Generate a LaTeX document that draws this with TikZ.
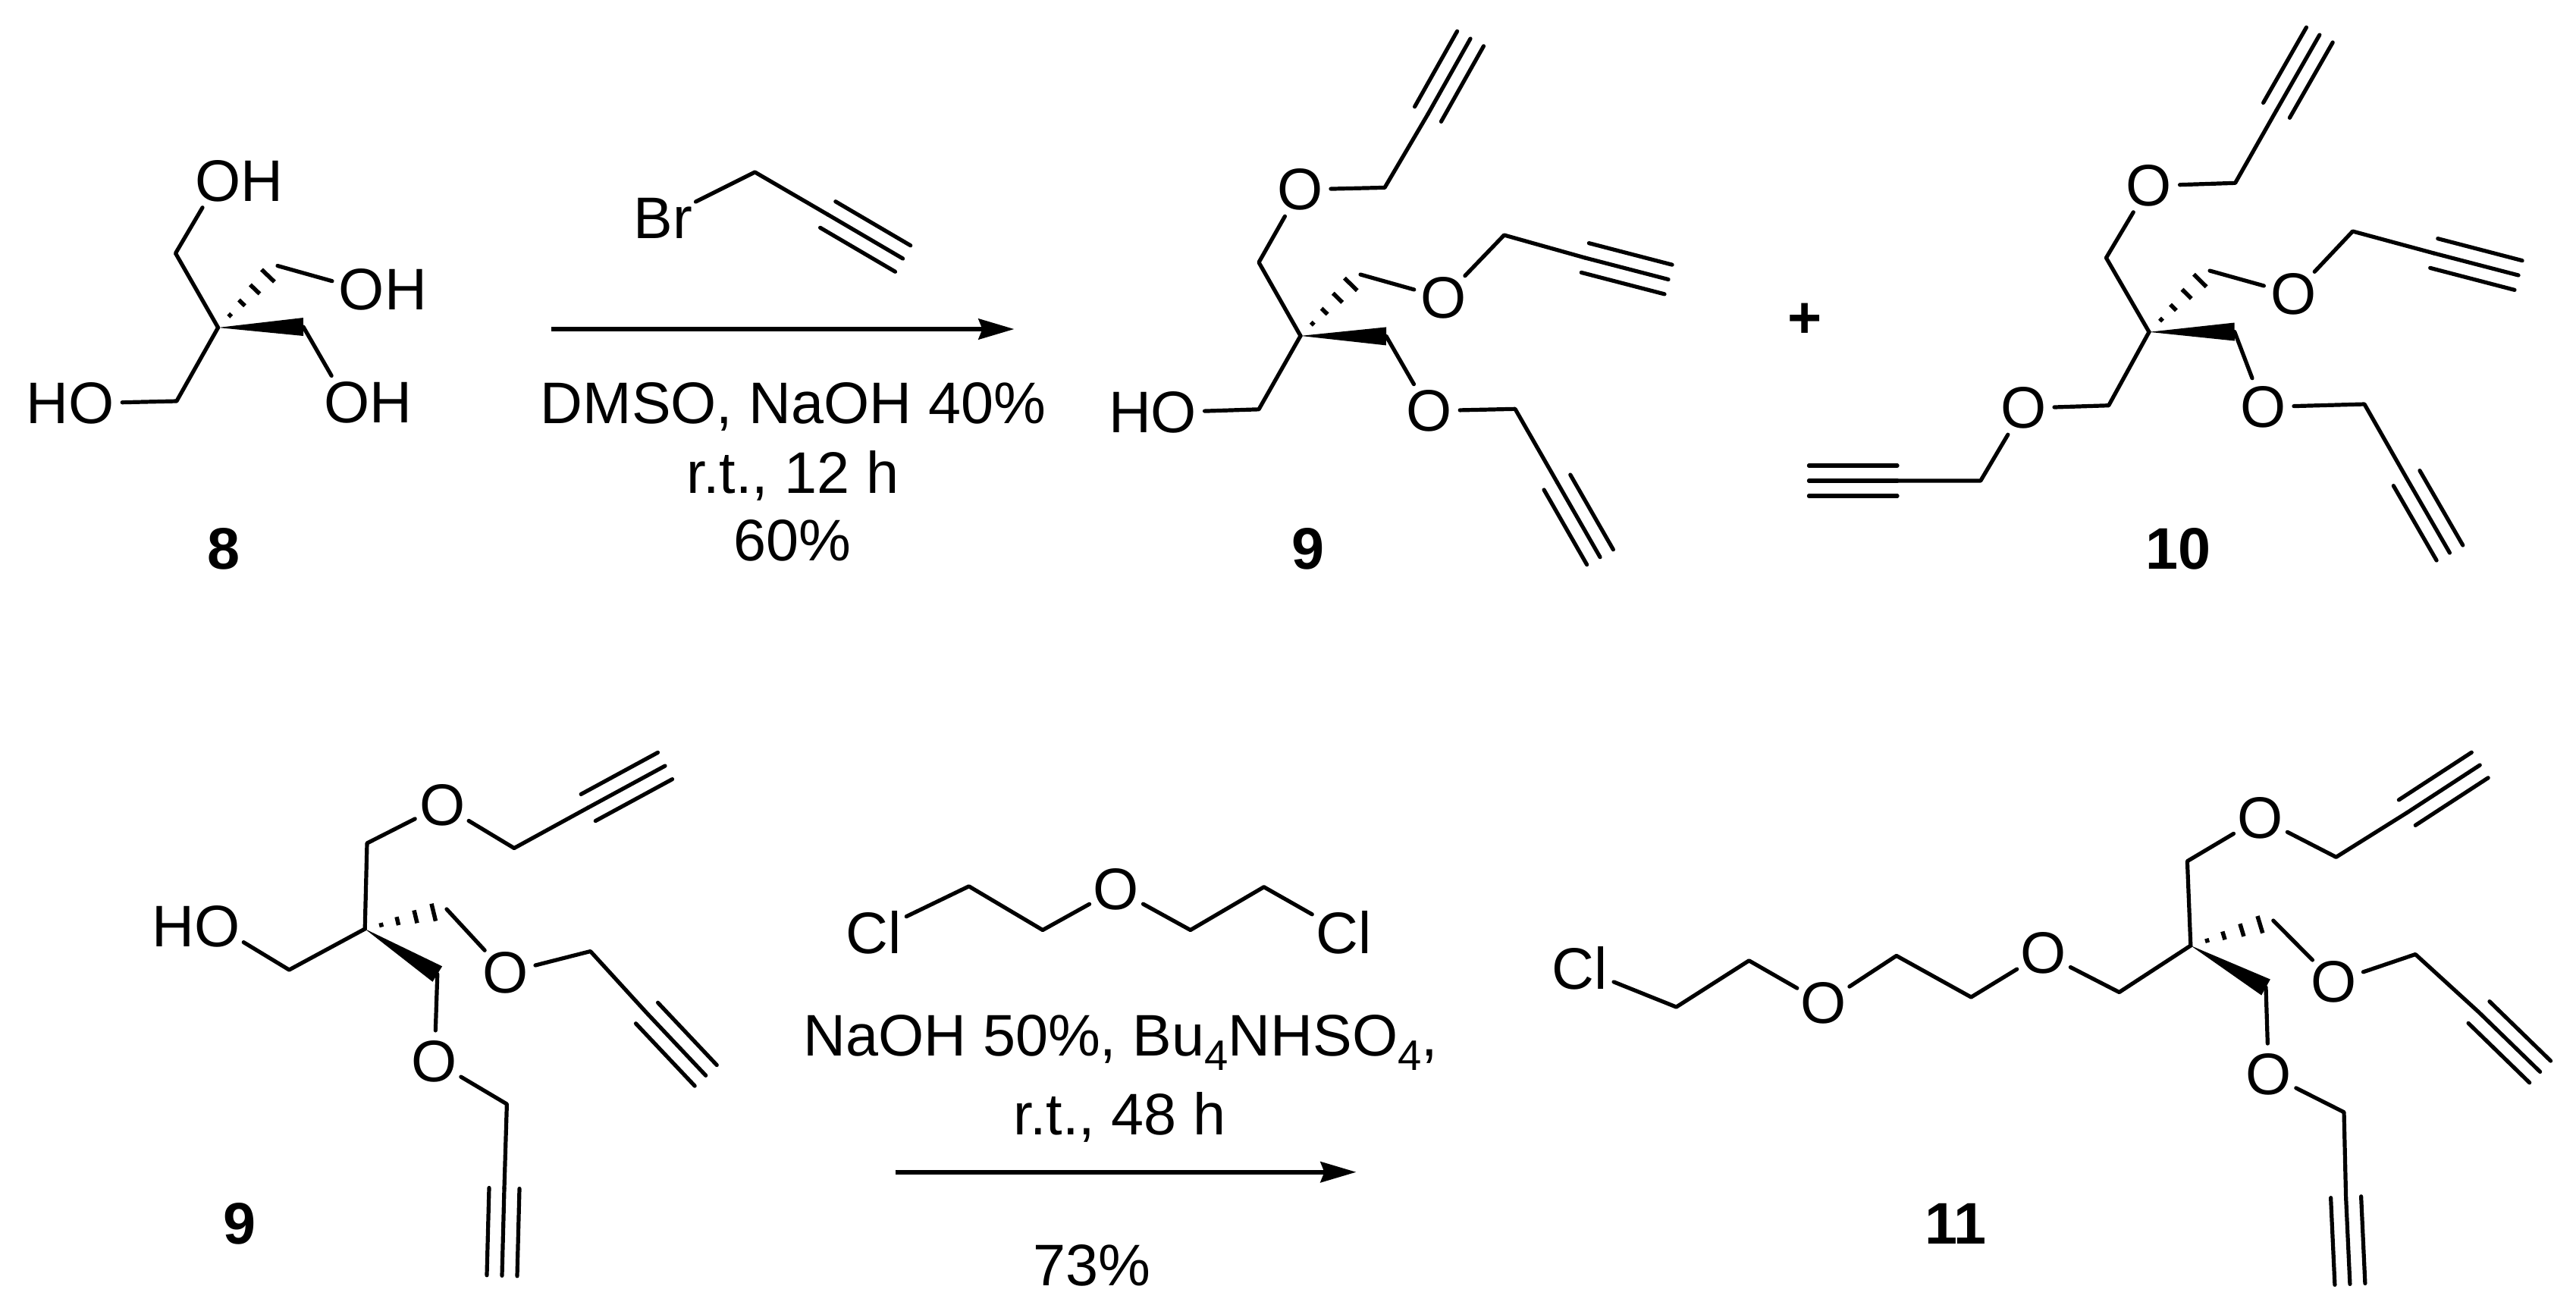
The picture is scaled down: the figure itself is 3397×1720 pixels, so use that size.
\documentclass[tikz,border=0pt]{standalone}
\usepackage{fontspec}
\setmainfont{Liberation Sans}
\usetikzlibrary{arrows.meta,calc}
\tikzset{
  % bonds
  bond/.style={line width=0.052cm, line cap=round, line join=round},
  hashline/.style={line width=0.055cm},
  % atom labels: the circle keeps bonds away from the letter
  atom/.style={circle, inner sep=0pt, outer sep=0pt, minimum size=0.8cm, font=\fontsize{22}{26}\selectfont},
  halogen/.style={atom, minimum size=0.96cm},
  % conditions and compound numbers
  txt/.style={inner sep=0pt, anchor=base, font=\fontsize{22}{26}\selectfont},
  cmpd/.style={inner sep=0pt, anchor=base, font=\fontsize{22}{26}\selectfont\bfseries},
  arr/.style={-{Stealth[length=0.47cm, width=0.27cm, inset=0.05cm]}, line width=0.06cm},
}
\newcommand{\alkyne}[2]{%
  \draw[bond] (#1) -- (#2);
  \draw[bond] ($(#1)!0.2cm!90:(#2)$) -- ($(#2)!0.2cm!-90:(#1)$);
  \draw[bond] ($(#1)!0.2cm!-90:(#2)$) -- ($(#2)!0.2cm!90:(#1)$);
}
\newcommand{\wedgebond}[2]{%
  \fill (#1) -- ($(#2)!0.12cm!90:(#1)$) -- ($(#2)!0.12cm!-90:(#1)$) -- cycle;
}
\newcommand{\hashbond}[2]{%
  \foreach \hpos in {0.2,0.4,0.62,0.84} {
    \coordinate (hmid) at ($(#1)!\hpos!(#2)$);
    \draw[hashline] ($(hmid)!\hpos*0.14cm!90:(#2)$) -- ($(hmid)!\hpos*0.14cm!-90:(#2)$);
  }
}
\newcommand{\subdown}[1]{\raisebox{-5.4pt}{\fontsize{16}{16}\selectfont #1}}

\begin{document}
\begin{tikzpicture}[x=0.01cm, y=-0.01cm]
  \useasboundingbox (0,0) rectangle (3397,1720);

  % 8
  \coordinate (c8) at (287.6,432);
  \coordinate (c8a) at (231.5,334);
  \coordinate (c8b) at (366,350.5);
  \coordinate (c8c) at (400,431);
  \coordinate (c8d) at (232.9,529);
  \node[atom] (o8a) at (287.6,238.8) {\rlap{OH}\phantom{O}};
  \node[atom] (o8b) at (477,381.6) {\rlap{OH}\phantom{O}};
  \node[atom] (o8c) at (457.4,530.6) {\rlap{OH}\phantom{O}};
  \node[atom] (o8d) at (120.7,531.6) {\phantom{O}\llap{HO}};
  \draw[bond] (o8a) -- (c8a) -- (c8) -- (c8d) -- (o8d);
  \draw[bond] (c8b) -- (o8b);
  \draw[bond] (c8c) -- (o8c);
  \hashbond{c8}{c8b}
  \wedgebond{c8}{c8c}
  \node[cmpd] (n8) at (294.6,750) {8};

  % reaction 1
  \node[halogen] (br1) at (874.5,287.5) {Br};
  \coordinate (r1a) at (995.5,227);
  \coordinate (r1b) at (1091.7,283);
  \coordinate (r1c) at (1190.6,341);
  \draw[bond] (br1) -- (r1a) -- (r1b);
  \alkyne{r1b}{r1c}
  \coordinate (arr1s) at (726.8,434);
  \coordinate (arr1e) at (1337.5,434);
  \draw[arr] (arr1s) -- (arr1e);
  \node[txt] (cond1a) at (1046,558) {DMSO, NaOH 40\%};
  \node[txt] (cond1b) at (1045.5,650) {r.t., 12 h};
  \node[txt] (cond1c) at (1045,739) {60\%};

  % 9
  \coordinate (c9) at (1715,442.9);
  \coordinate (c9a) at (1660,346);
  \coordinate (c9b) at (1826,247.4);
  \coordinate (c9c) at (1883,150.5);
  \coordinate (c9d) at (1939,51);
  \coordinate (c9e) at (1794,362);
  \coordinate (c9f) at (1983.5,310);
  \coordinate (c9g) at (2090.3,340);
  \coordinate (c9h) at (2200,368.5);
  \coordinate (c9i) at (1828,443.4);
  \coordinate (c9j) at (1998,539.3);
  \coordinate (c9k) at (2053.4,636);
  \coordinate (c9l) at (2110,734.7);
  \coordinate (c9m) at (1660,539.8);
  \node[atom] (o9a) at (1714.4,250) {O};
  \node[atom] (o9b) at (1903.8,392.9) {O};
  \node[atom] (o9c) at (1884.7,541.8) {O};
  \node[atom] (o9d) at (1548,543.4) {\phantom{O}\llap{HO}};
  \draw[bond] (c9) -- (c9a) -- (o9a) -- (c9b) -- (c9c);
  \alkyne{c9c}{c9d}
  \draw[bond] (c9e) -- (o9b) -- (c9f) -- (c9g);
  \alkyne{c9g}{c9h}
  \draw[bond] (c9i) -- (o9c) -- (c9j) -- (c9k);
  \alkyne{c9k}{c9l}
  \draw[bond] (c9) -- (c9m) -- (o9d);
  \hashbond{c9}{c9e}
  \wedgebond{c9}{c9i}
  \node[cmpd] (n9) at (1725,750) {9};

  % plus
  \node[cmpd] (plus) at (2380,445) {+};

  % 10
  \coordinate (c10) at (2834,437.8);
  \coordinate (c10a) at (2777.4,340);
  \coordinate (c10b) at (2947.6,241.3);
  \coordinate (c10c) at (3002,145.4);
  \coordinate (c10d) at (3058.8,46);
  \coordinate (c10e) at (2914,357);
  \coordinate (c10f) at (3102.5,305);
  \coordinate (c10g) at (3209.7,334);
  \coordinate (c10h) at (3321,363);
  \coordinate (c10i) at (2946.7,437.5);
  \coordinate (c10j) at (3118,533);
  \coordinate (c10k) at (3173.6,630.6);
  \coordinate (c10l) at (3230.4,729);
  \coordinate (c10m) at (2780.7,534.7);
  \coordinate (c10n) at (2611.8,634);
  \coordinate (c10o) at (2502,634);
  \coordinate (c10p) at (2385.4,634);
  \node[atom] (o10a) at (2834,245) {O};
  \node[atom] (o10b) at (3024.4,387.8) {O};
  \node[atom] (o10c) at (2984.4,536.7) {O};
  \node[atom] (o10d) at (2668.5,538.3) {O};
  \draw[bond] (c10) -- (c10a) -- (o10a) -- (c10b) -- (c10c);
  \alkyne{c10c}{c10d}
  \draw[bond] (c10e) -- (o10b) -- (c10f) -- (c10g);
  \alkyne{c10g}{c10h}
  \draw[bond] (c10i) -- (o10c) -- (c10j) -- (c10k);
  \alkyne{c10k}{c10l}
  \draw[bond] (c10) -- (c10m) -- (o10d) -- (c10n) -- (c10o);
  \alkyne{c10o}{c10p}
  \hashbond{c10}{c10e}
  \wedgebond{c10}{c10i}
  \node[cmpd] (n10) at (2872,750) {10};

  % 9 again, second row
  \coordinate (d9) at (481.2,1225);
  \coordinate (d9a) at (484,1112);
  \coordinate (d9b) at (678,1118.5);
  \coordinate (d9c) at (775.7,1065);
  \coordinate (d9d) at (877,1010);
  \coordinate (d9e) at (589,1199);
  \coordinate (d9f) at (778.6,1254.5);
  \coordinate (d9g) at (853,1336);
  \coordinate (d9h) at (930.7,1418.3);
  \coordinate (d9i) at (576.8,1284.5);
  \coordinate (d9j) at (668.4,1456);
  \coordinate (d9k) at (665,1567);
  \coordinate (d9l) at (662,1682.3);
  \coordinate (d9m) at (381.3,1279);
  \node[atom] (p9a) at (583.4,1061.5) {O};
  \node[atom] (p9b) at (666.7,1283) {O};
  \node[atom] (p9c) at (573,1399.4) {O};
  \node[atom] (p9d) at (286.6,1221.6) {\phantom{O}\llap{HO}};
  \draw[bond] (d9) -- (d9a) -- (p9a) -- (d9b) -- (d9c);
  \alkyne{d9c}{d9d}
  \draw[bond] (d9e) -- (p9b) -- (d9f) -- (d9g);
  \alkyne{d9g}{d9h}
  \draw[bond] (d9i) -- (p9c) -- (d9j) -- (d9k);
  \alkyne{d9k}{d9l}
  \draw[bond] (d9) -- (d9m) -- (p9d);
  \hashbond{d9}{d9e}
  \wedgebond{d9}{d9i}
  \node[cmpd] (m9) at (316.5,1640) {9};

  % reaction 2
  \node[halogen] (cl1) at (1152,1229.5) {Cl};
  \node[halogen] (cl2) at (1772,1229.5) {Cl};
  \node[atom] (o2) at (1472,1172.6) {O};
  \coordinate (r2a) at (1277.7,1168.8);
  \coordinate (r2b) at (1375,1226.5);
  \coordinate (r2c) at (1569.8,1226.5);
  \coordinate (r2d) at (1666.7,1169.7);
  \draw[bond] (cl1) -- (r2a) -- (r2b) -- (o2) -- (r2c) -- (r2d) -- (cl2);
  \coordinate (arr2s) at (1180.7,1545.7);
  \coordinate (arr2e) at (1788.5,1545.7);
  \draw[arr] (arr2s) -- (arr2e);
  \node[txt] (cond2a) at (1478,1392) {NaOH 50\%, Bu\subdown{4}NHSO\subdown{4},};
  \node[txt] (cond2b) at (1476.5,1496.6) {r.t., 48 h};
  \node[txt] (cond2c) at (1440,1695) {73\%};

  % 11
  \coordinate (c11) at (2888.8,1247);
  \coordinate (c11a) at (2210.5,1328);
  \coordinate (c11b) at (2306.4,1266.8);
  \coordinate (c11c) at (2500.8,1260.4);
  \coordinate (c11d) at (2599.3,1315);
  \coordinate (c11e) at (2794.6,1308.5);
  \coordinate (c11f) at (2884.4,1135.7);
  \coordinate (c11g) at (3080.6,1130.3);
  \coordinate (c11h) at (3174.3,1071.6);
  \coordinate (c11i) at (3270.2,1009);
  \coordinate (c11j) at (2997.8,1214);
  \coordinate (c11k) at (3185.2,1258.5);
  \coordinate (c11l) at (3269,1335);
  \coordinate (c11m) at (3349.6,1413.4);
  \coordinate (c11n) at (2988,1302);
  \coordinate (c11o) at (3091,1466.7);
  \coordinate (c11p) at (3093.6,1578.7);
  \coordinate (c11q) at (3098.9,1693.4);
  \node[halogen] (cl3) at (2083.5,1277) {Cl};
  \node[atom] (o11a) at (2405,1323.3) {O};
  \node[atom] (o11b) at (2694.3,1257) {O};
  \node[atom] (o11c) at (2980.3,1078.7) {O};
  \node[atom] (o11d) at (3078,1294.8) {O};
  \node[atom] (o11e) at (2991.6,1416.6) {O};
  \draw[bond] (cl3) -- (c11a) -- (c11b) -- (o11a) -- (c11c) -- (c11d) -- (o11b) -- (c11e) -- (c11);
  \draw[bond] (c11) -- (c11f) -- (o11c) -- (c11g) -- (c11h);
  \alkyne{c11h}{c11i}
  \draw[bond] (c11j) -- (o11d) -- (c11k) -- (c11l);
  \alkyne{c11l}{c11m}
  \draw[bond] (c11n) -- (o11e) -- (c11o) -- (c11p);
  \alkyne{c11p}{c11q}
  \hashbond{c11}{c11j}
  \wedgebond{c11}{c11n}
  \node[cmpd] (n11) at (2579,1640) {11};
\end{tikzpicture}
\end{document}
